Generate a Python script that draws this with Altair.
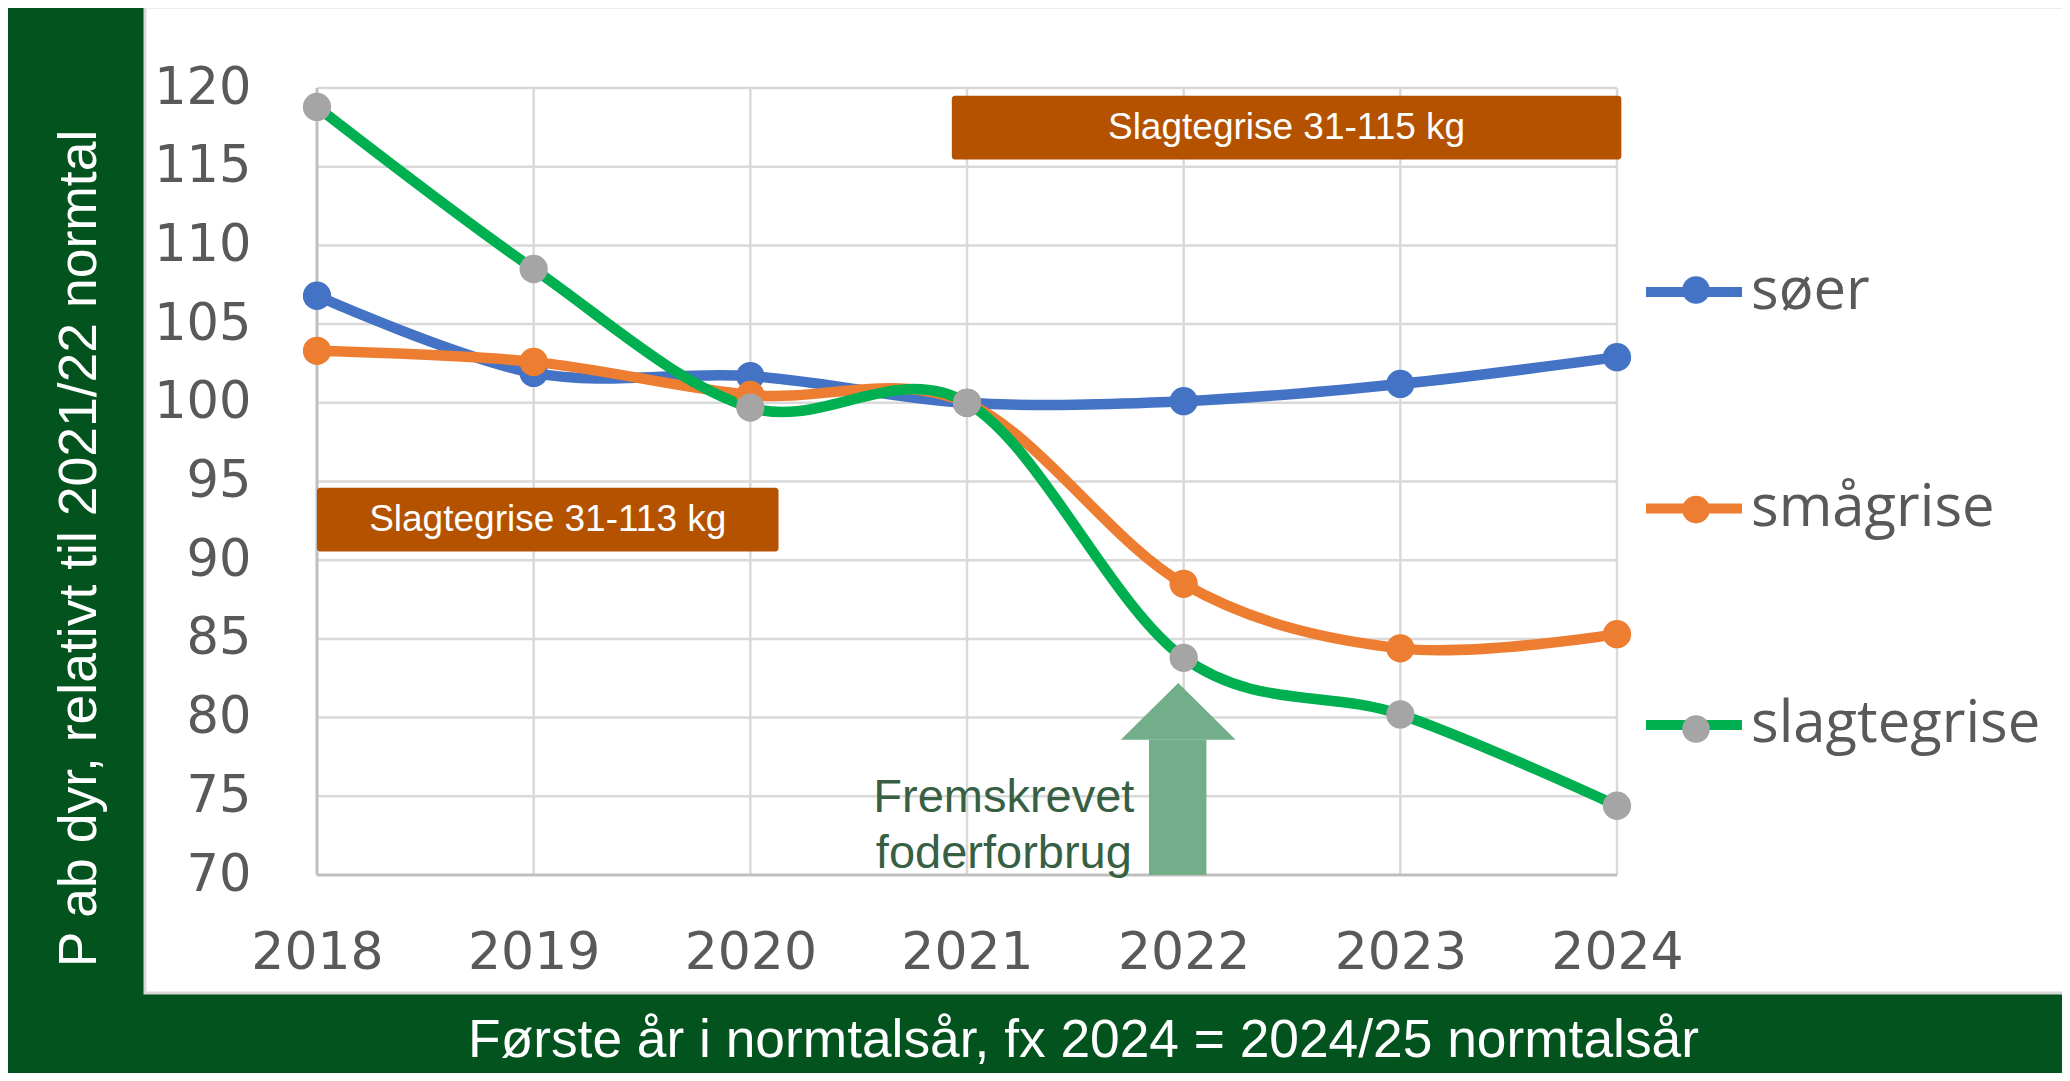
import altair as alt
import pandas as pd

# ---------------- data ----------------
years = [2018, 2019, 2020, 2021, 2022, 2023, 2024]
series_names = ["søer", "smågrise", "slagtegrise"]
soer = [106.8, 101.9, 101.7, 100.0, 100.1, 101.2, 102.9]
smaagrise = [103.3, 102.6, 100.5, 100.0, 88.5, 84.4, 85.3]
slagtegrise = [118.8, 108.5, 99.7, 100.0, 83.8, 80.2, 74.4]

line_colors = ["#4472C4", "#ED7D31", "#00B050"]
marker_colors = ["#4472C4", "#ED7D31", "#A5A5A5"]

y_ticks = [70, 75, 80, 85, 90, 95, 100, 105, 110, 115, 120]
x_ticks = years

box_labels = ["Slagtegrise 31-113 kg", "Slagtegrise 31-115 kg"]
box_x1 = [2018.0, 2020.93]
box_x2 = [2020.13, 2024.02]
box_y1 = [94.6, 119.5]
box_y2 = [90.55, 115.45]

arrow_shaft_x = [2021.84, 2022.105]
arrow_shaft_y = [70.0, 78.6]
arrow_head_x = [2021.71, 2021.975, 2022.24]
arrow_head_y = [78.6, 82.2, 78.6]
arrow_label = "Fremskrevet\nfoderforbrug"
arrow_label_x = [2021.17]
arrow_label_y = [74.0]

y_title = "P ab dyr, relativt til 2021/22 normtal"
x_title = "Første år i normtalsår, fx 2024 = 2024/25 normtalsår"

# ---------------- tables ----------------
rows = []
for name, vals in zip(series_names, [soer, smaagrise, slagtegrise]):
    for yr, v in zip(years, vals):
        rows.append({"year": yr, "value": v, "serie": name, "serie_pt": name + " "})
df = pd.DataFrame(rows)

df_xgrid = pd.DataFrame({"year": x_ticks[1:]})
df_ygrid = pd.DataFrame({"value": y_ticks[1:]})
df_xaxis = pd.DataFrame({"year": x_ticks[:1]})
df_yaxis = pd.DataFrame({"value": y_ticks[:1]})
df_boxes = pd.DataFrame({
    "label": box_labels, "x1": box_x1, "x2": box_x2, "y1": box_y1, "y2": box_y2,
})
df_boxes["xc"] = (df_boxes["x1"] + df_boxes["x2"]) / 2
df_boxes["yc"] = (df_boxes["y1"] + df_boxes["y2"]) / 2
df_shaft = pd.DataFrame({"x1": [arrow_shaft_x[0]], "x2": [arrow_shaft_x[1]],
                         "y1": [arrow_shaft_y[0]], "y2": [arrow_shaft_y[1]]})
df_head = pd.DataFrame({"x": arrow_head_x, "y": arrow_head_y,
                        "base": [arrow_head_y[0]] * len(arrow_head_x)})
df_atext = pd.DataFrame({"x": arrow_label_x, "y": arrow_label_y, "t": [arrow_label]})
df_one = pd.DataFrame({"a": [0]})

# ---------------- scales / axes ----------------
xscale = alt.Scale(domain=[2018, 2024], nice=False, zero=False)
yscale = alt.Scale(domain=[70, 120], nice=False, zero=False)

xaxis = alt.Axis(
    values=x_ticks, format="d", grid=False, domain=False, ticks=False, tickSize=0,
    labelFont="DejaVu Sans", labelFontSize=52, labelColor="#595959",
    labelPadding=77, labelBaseline="middle", labelFlush=False,
    title=x_title, titleFont="Liberation Sans", titleFontSize=53.3,
    titleFontWeight="normal", titleColor="white", titleX=766, titleY=165,
    titleAlign="center", titleBaseline="middle", zindex=1,
)
yaxis = alt.Axis(
    values=y_ticks, grid=False, domain=False, ticks=False, tickSize=0,
    labelFont="DejaVu Sans", labelFontSize=51, labelColor="#595959",
    labelPadding=66, labelBaseline="middle",
    title=y_title, titleFont="Liberation Sans", titleFontSize=53.5,
    titleFontWeight="normal", titleColor="white", titleX=-238, titleY=460,
    titleAngle=270, titleAlign="center", titleBaseline="middle", zindex=1,
)


def X(field):
    return alt.X(field, scale=xscale, axis=xaxis)


def Y(field):
    return alt.Y(field, scale=yscale, axis=yaxis)


# ---------------- layers ----------------
panel = alt.Chart(df_one).mark_rect(fill="white", stroke="#D9D9D9", strokeWidth=3).encode(
    x=alt.value(-172), x2=alt.value(1753), y=alt.value(-81), y2=alt.value(905)
)

xgrid = alt.Chart(df_xgrid).mark_rule(color="#D9D9D9", strokeWidth=2.5).encode(x=X("year:Q"))
ygrid = alt.Chart(df_ygrid).mark_rule(color="#D9D9D9", strokeWidth=2.5).encode(y=Y("value:Q"))
xaxis_line = alt.Chart(df_xaxis).mark_rule(color="#BFBFBF", strokeWidth=3).encode(x=X("year:Q"))
yaxis_line = alt.Chart(df_yaxis).mark_rule(color="#BFBFBF", strokeWidth=3).encode(y=Y("value:Q"))

shaft = alt.Chart(df_shaft).mark_rect(color="#72AE89").encode(
    x=X("x1:Q"), x2="x2:Q", y=Y("y1:Q"), y2="y2:Q",
)
head = alt.Chart(df_head).mark_area(color="#72AE89", opacity=1).encode(
    x=X("x:Q"), y=Y("y:Q"), y2="base:Q",
)
atext = alt.Chart(df_atext).mark_text(
    font="Liberation Sans", fontSize=47, color="#375F44", align="center",
    baseline="alphabetic", lineBreak="\n", lineHeight=56,
).encode(x=X("x:Q"), y=Y("y:Q"), text="t:N")

boxes = alt.Chart(df_boxes).mark_rect(color="#B45200", cornerRadius=3).encode(
    x=X("x1:Q"), x2="x2:Q", y=Y("y1:Q"), y2="y2:Q",
)
box_text = alt.Chart(df_boxes).mark_text(
    font="Liberation Sans", fontSize=37, color="white", align="center", baseline="middle"
).encode(x=X("xc:Q"), y=Y("yc:Q"), text="label:N")

lines = alt.Chart(df).mark_line(
    interpolate="cardinal", strokeWidth=10.5, strokeCap="round", strokeJoin="round"
).encode(
    x=X("year:Q"),
    y=Y("value:Q"),
    stroke=alt.Stroke(
        "serie:N",
        scale=alt.Scale(domain=series_names, range=line_colors),
        legend=alt.Legend(
            title=None, orient="none", legendX=1324, legendY=151, direction="vertical",
            symbolType="stroke", symbolSize=9216, symbolStrokeWidth=10,
            labelFont="Open Sans", labelFontSize=58, labelColor="#595959",
            labelOffset=4, labelLimit=600, rowPadding=134.5, padding=0, zindex=1,
        ),
    ),
)

points = alt.Chart(df).mark_circle(size=800, opacity=1).encode(
    x=X("year:Q"),
    y=Y("value:Q"),
    fill=alt.Fill(
        "serie_pt:N",
        scale=alt.Scale(domain=[s + " " for s in series_names], range=marker_colors),
        legend=alt.Legend(
            title=None, orient="none", legendX=1365, legendY=188, direction="vertical",
            symbolType="circle", symbolSize=760, symbolStrokeWidth=0,
            labelExpr="''", labelFontSize=1, labelLimit=10,
            rowPadding=191.5, padding=0, zindex=2,
        ),
    ),
)

chart = alt.layer(
    panel, xgrid, ygrid, xaxis_line, yaxis_line, shaft, head, atext,
    boxes, box_text, lines, points,
).properties(
    width=1300, height=787, background="#03531F",
    padding={"left": 309, "top": 80, "right": 445, "bottom": 198},
    autosize=alt.AutoSizeParams(type="none"),
).configure_view(strokeWidth=0)

chart.save("out.html", embed_options={"renderer": "svg", "actions": False})
